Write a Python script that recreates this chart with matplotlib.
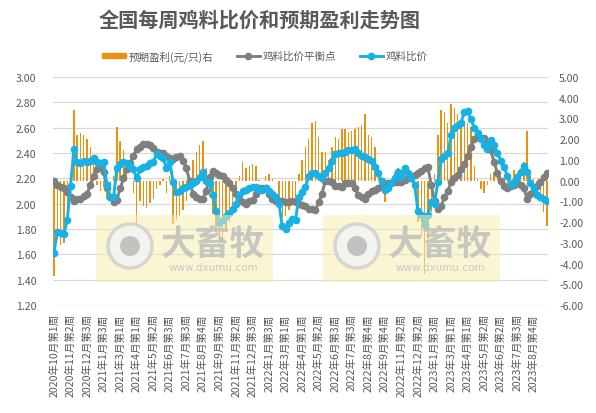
import matplotlib
matplotlib.use('Agg')
import matplotlib.pyplot as plt
from matplotlib.patches import Rectangle, Ellipse, Patch
from matplotlib.lines import Line2D
import numpy as np

plt.rcParams['font.family'] = ['Noto Sans CJK SC', 'DejaVu Sans']

tick_labels = [
    '2020年10月第1周', '2020年11月第2周', '2020年12月第3周', '2021年1月第3周',
    '2021年3月第1周', '2021年4月第1周', '2021年5月第2周', '2021年6月第3周',
    '2021年7月第3周', '2021年8月第4周', '2021年9月第5周', '2021年11月第2周',
    '2021年12月第3周', '2022年1月第3周', '2022年3月第1周', '2022年4月第1周',
    '2022年5月第2周', '2022年6月第3周', '2022年7月第3周', '2022年8月第4周',
    '2022年9月第4周', '2022年11月第2周', '2022年12月第2周', '2023年1月第3周',
    '2023年3月第1周', '2023年4月第1周', '2023年5月第2周', '2023年6月第2周',
    '2023年7月第3周', '2023年8月第4周',
]

ratio = [
    1.61, 1.78, 1.77, 1.76, 1.87, 2.14, 2.43, 2.33, 2.32, 2.34,
    2.33, 2.34, 2.36, 2.33, 2.32, 2.33, 2.15, 2.05, 2.05, 2.28,
    2.31, 2.33, 2.32, 2.30, 2.27, 2.20, 2.27, 2.29, 2.30, 2.32,
    2.33, 2.39, 2.38, 2.36, 2.28, 2.33, 2.17, 2.09, 2.10, 2.12,
    2.13, 2.15, 2.16, 2.18, 2.21, 2.25, 2.18, 2.16, 2.07, 1.94,
    1.85, 1.87, 1.90, 1.93, 1.96, 2.00, 2.07, 2.10, 2.11, 2.12,
    2.13, 2.13, 2.11, 2.11, 2.12, 2.10, 2.08, 2.05, 2.00, 1.82,
    1.80, 1.85, 1.88, 1.87, 2.05, 2.09, 2.13, 2.22, 2.24, 2.24,
    2.22, 2.20, 2.24, 2.28, 2.34, 2.39, 2.40, 2.40, 2.41, 2.42,
    2.42, 2.43, 2.40, 2.38, 2.37, 2.35, 2.34, 2.29, 2.24, 2.18,
    2.11, 2.12, 2.16, 2.20, 2.25, 2.21, 2.28, 2.24, 2.20, 2.15,
    1.94, 1.91, 1.83, 1.91, 2.01, 2.00, 2.17, 2.35, 2.38, 2.40,
    2.54, 2.60, 2.62, 2.64, 2.72, 2.73, 2.67, 2.60, 2.56, 2.51,
    2.46, 2.43, 2.50, 2.46, 2.40, 2.34, 2.29, 2.22, 2.15, 2.17,
    2.21, 2.25, 2.30, 2.25, 2.16, 2.12, 2.07, 2.05, 2.04, 2.02,
]

breakeven = [
    2.18, 2.15, 2.13, 2.12, 2.09, 2.05, 2.02, 2.04, 2.04, 2.06,
    2.08, 2.15, 2.22, 2.27, 2.30, 2.25, 2.12, 2.05, 2.01, 2.03,
    2.12, 2.20, 2.27, 2.32, 2.38, 2.43, 2.45, 2.47, 2.47, 2.46,
    2.44, 2.41, 2.40, 2.40, 2.38, 2.36, 2.35, 2.37, 2.38, 2.34,
    2.28, 2.18, 2.08, 2.05, 2.04, 2.04, 2.10, 2.21, 2.26, 2.24,
    2.23, 2.22, 2.19, 2.16, 2.12, 2.08, 2.04, 2.01, 2.00, 2.02,
    2.03, 2.08, 2.12, 2.12, 2.12, 2.08, 2.04, 2.02, 2.02, 2.02,
    2.01, 2.01, 2.02, 2.01, 2.00, 1.99, 1.98, 1.96, 1.96, 1.95,
    2.01, 2.08, 2.18, 2.18, 2.17, 2.14, 2.14, 2.13, 2.16, 2.16,
    2.16, 2.12, 2.07, 2.05, 2.04, 2.08, 2.10, 2.11, 2.12, 2.14,
    2.15, 2.16, 2.16, 2.17, 2.17, 2.17, 2.19, 2.20, 2.21, 2.23,
    2.24, 2.26, 2.28, 2.29, 2.15, 2.02, 1.96, 1.98, 2.05, 2.10,
    2.17, 2.20, 2.23, 2.27, 2.31, 2.38, 2.45, 2.51, 2.54, 2.52,
    2.52, 2.47, 2.42, 2.33, 2.24, 2.18, 2.14, 2.12, 2.14, 2.15,
    2.16, 2.15, 2.12, 2.04, 2.08, 2.11, 2.14, 2.17, 2.21, 2.24,
]

profit = [
    -4.6, -2.8, -3.1, -3.0, -1.6, 0.3, 3.4, 2.2, 2.3, 2.2,
    2.0, 1.6, 1.2, -0.2, -0.5, -0.3, -0.9, -0.4, 0.2, 2.6,
    1.9, 1.5, 0.8, 0.0, -0.6, -2.3, -1.0, -1.2, -1.3, -1.1,
    -0.9, -0.4, -0.2, 0.1, -0.6, 0.2, -2.1, -1.9, -1.7, -1.4,
    -1.0, -0.3, 1.0, 1.4, 1.7, 1.9, 0.6, -0.8, -1.6, -2.5,
    -3.2, -3.0, -2.5, -2.0, -1.4, -0.6, 0.2, 0.9, 0.6, 0.7,
    0.8, 0.7, 0.05, 0.0, 0.2, 0.3, 0.1, 0.0, -0.7, -1.8,
    -1.7, -1.4, -1.1, -0.9, 0.3, 1.0, 1.6, 2.0, 2.8, 2.9,
    2.1, 1.4, 1.4, 1.0, 1.6, 2.1, 2.0, 2.5, 2.5, 2.35,
    2.4, 2.5, 2.6, 2.7, 3.2, 2.2, 2.1, 1.6, 0.6, -0.2,
    -1.05, -0.4, 0.1, 0.4, 0.6, 0.5, 0.6, 0.4, 0.0, -0.5,
    -2.0, -2.7, -4.5, -2.8, -1.5, 0.3, 2.2, 3.4, 3.3, 2.8,
    3.7, 3.5, 3.2, 2.9, 2.9, 2.8, 2.6, 0.7, 0.1, -0.4,
    -0.6, -0.2, 0.3, 0.4, 0.3, 0.2, 0.1, -0.3, 0.2, 0.5,
    0.4, 0.5, 0.9, 2.4, 0.4, 0.1, -0.6, -0.9, -1.5, -2.2,
]

left_ticks = [1.2, 1.4, 1.6, 1.8, 2.0, 2.2, 2.4, 2.6, 2.8, 3.0]
right_ticks = [-6, -5, -4, -3, -2, -1, 0, 1, 2, 3, 4, 5]

C_BAR = '#E8930F'
C_GRAY = '#7F7F7F'
C_BLUE = '#17B1E6'
C_TXT = '#595959'
C_GRID = '#D9D9D9'

W, H = 596, 414
fig = plt.figure(figsize=(W / 100, H / 100), dpi=100)
L, R, T, B = 53, 548, 78, 306
ax_bar = fig.add_axes([L / W, 1 - B / H, (R - L) / W, (B - T) / H])
ax_line = ax_bar.twinx()
ax_bar.yaxis.tick_right()
ax_line.yaxis.tick_left()

n = len(ratio)
x = np.arange(n)

# gridlines aligned with left-axis ticks, drawn behind bars
rlo, rhi = right_ticks[0], right_ticks[-1]
llo, lhi = left_ticks[0], left_ticks[-1]
for v in left_ticks:
    ax_bar.axhline(rlo + (v - llo) * (rhi - rlo) / (lhi - llo), color=C_GRID, lw=0.9, zorder=0)

ax_bar.bar(x, profit, width=0.42, color=C_BAR, zorder=2)
ax_bar.set_ylim(rlo, rhi)
ax_bar.set_yticks(right_ticks)
ax_bar.set_yticklabels(['%.2f' % t for t in right_ticks])

ax_line.plot(x, breakeven, color=C_GRAY, lw=2.1, marker='o', ms=4.5, zorder=3)
ax_line.plot(x, ratio, color=C_BLUE, lw=2.1, marker='o', ms=4.5, zorder=4)
ax_line.set_ylim(llo, lhi)
ax_line.set_yticks(left_ticks)
ax_line.set_yticklabels(['%.2f' % t for t in left_ticks])

ax_bar.set_xlim(-0.3, n - 0.7)
ax_bar.set_xticks(x[::5])
ax_bar.set_xticklabels(tick_labels, rotation=90, va='top', ha='center')

for a in (ax_bar, ax_line):
    for s in a.spines.values():
        s.set_visible(False)
    a.tick_params(length=0, colors=C_TXT, labelsize=7.6)
ax_bar.tick_params(axis='y', pad=8)
ax_line.tick_params(axis='y', pad=12)
ax_bar.tick_params(axis='x', pad=6)

fig.text(0.436, 1 - 20 / H, '全国每周鸡料比价和预期盈利走势图', ha='center', va='center',
         fontsize=14.5, fontweight='bold', color=C_TXT)

handles = [Patch(color=C_BAR),
           Line2D([], [], color=C_GRAY, lw=2.1, marker='o', ms=4.5),
           Line2D([], [], color=C_BLUE, lw=2.1, marker='o', ms=4.5)]
labels = ['预期盈利(元/只)右', '鸡料比价平衡点', '鸡料比价']
fig.legend(handles, labels, loc='center', bbox_to_anchor=(0.445, 1 - 57 / H), ncol=3,
           frameon=False, fontsize=7.6, handlelength=2.2, handleheight=0.45,
           columnspacing=2.2, handletextpad=0.3, labelcolor=C_TXT)

# watermarks
for x0 in (96, 323):
    fig.add_artist(Rectangle((x0 / W, 1 - 283 / H), 177 / W, 67 / H, transform=fig.transFigure,
                             facecolor='#F6EDB0', edgecolor='none', alpha=0.55, zorder=10))
    cx, cy = x0 + 34, 247
    fig.add_artist(Ellipse((cx / W, 1 - cy / H), 44 / W, 44 / H, transform=fig.transFigure,
                           facecolor='#F4F4F4', edgecolor='#D0D0D0', lw=2.5, alpha=0.85, zorder=11))
    fig.add_artist(Ellipse((cx / W, 1 - cy / H), 20 / W, 20 / H, transform=fig.transFigure,
                           facecolor='#BDBDBD', edgecolor='none', alpha=0.9, zorder=12))
    fig.text((x0 + 117) / W, 1 - 244 / H, '大畜牧', ha='center', va='center', fontsize=25,
             fontweight='bold', color='#BFBFBF', alpha=0.85, zorder=12)
    fig.text((x0 + 117) / W, 1 - 268 / H, 'www.dxumu.com', ha='center', va='center', fontsize=7.5,
             color='#C4C4C4', alpha=0.9, zorder=12, family=['DejaVu Sans'])

fig.savefig('out.png', dpi=100)
